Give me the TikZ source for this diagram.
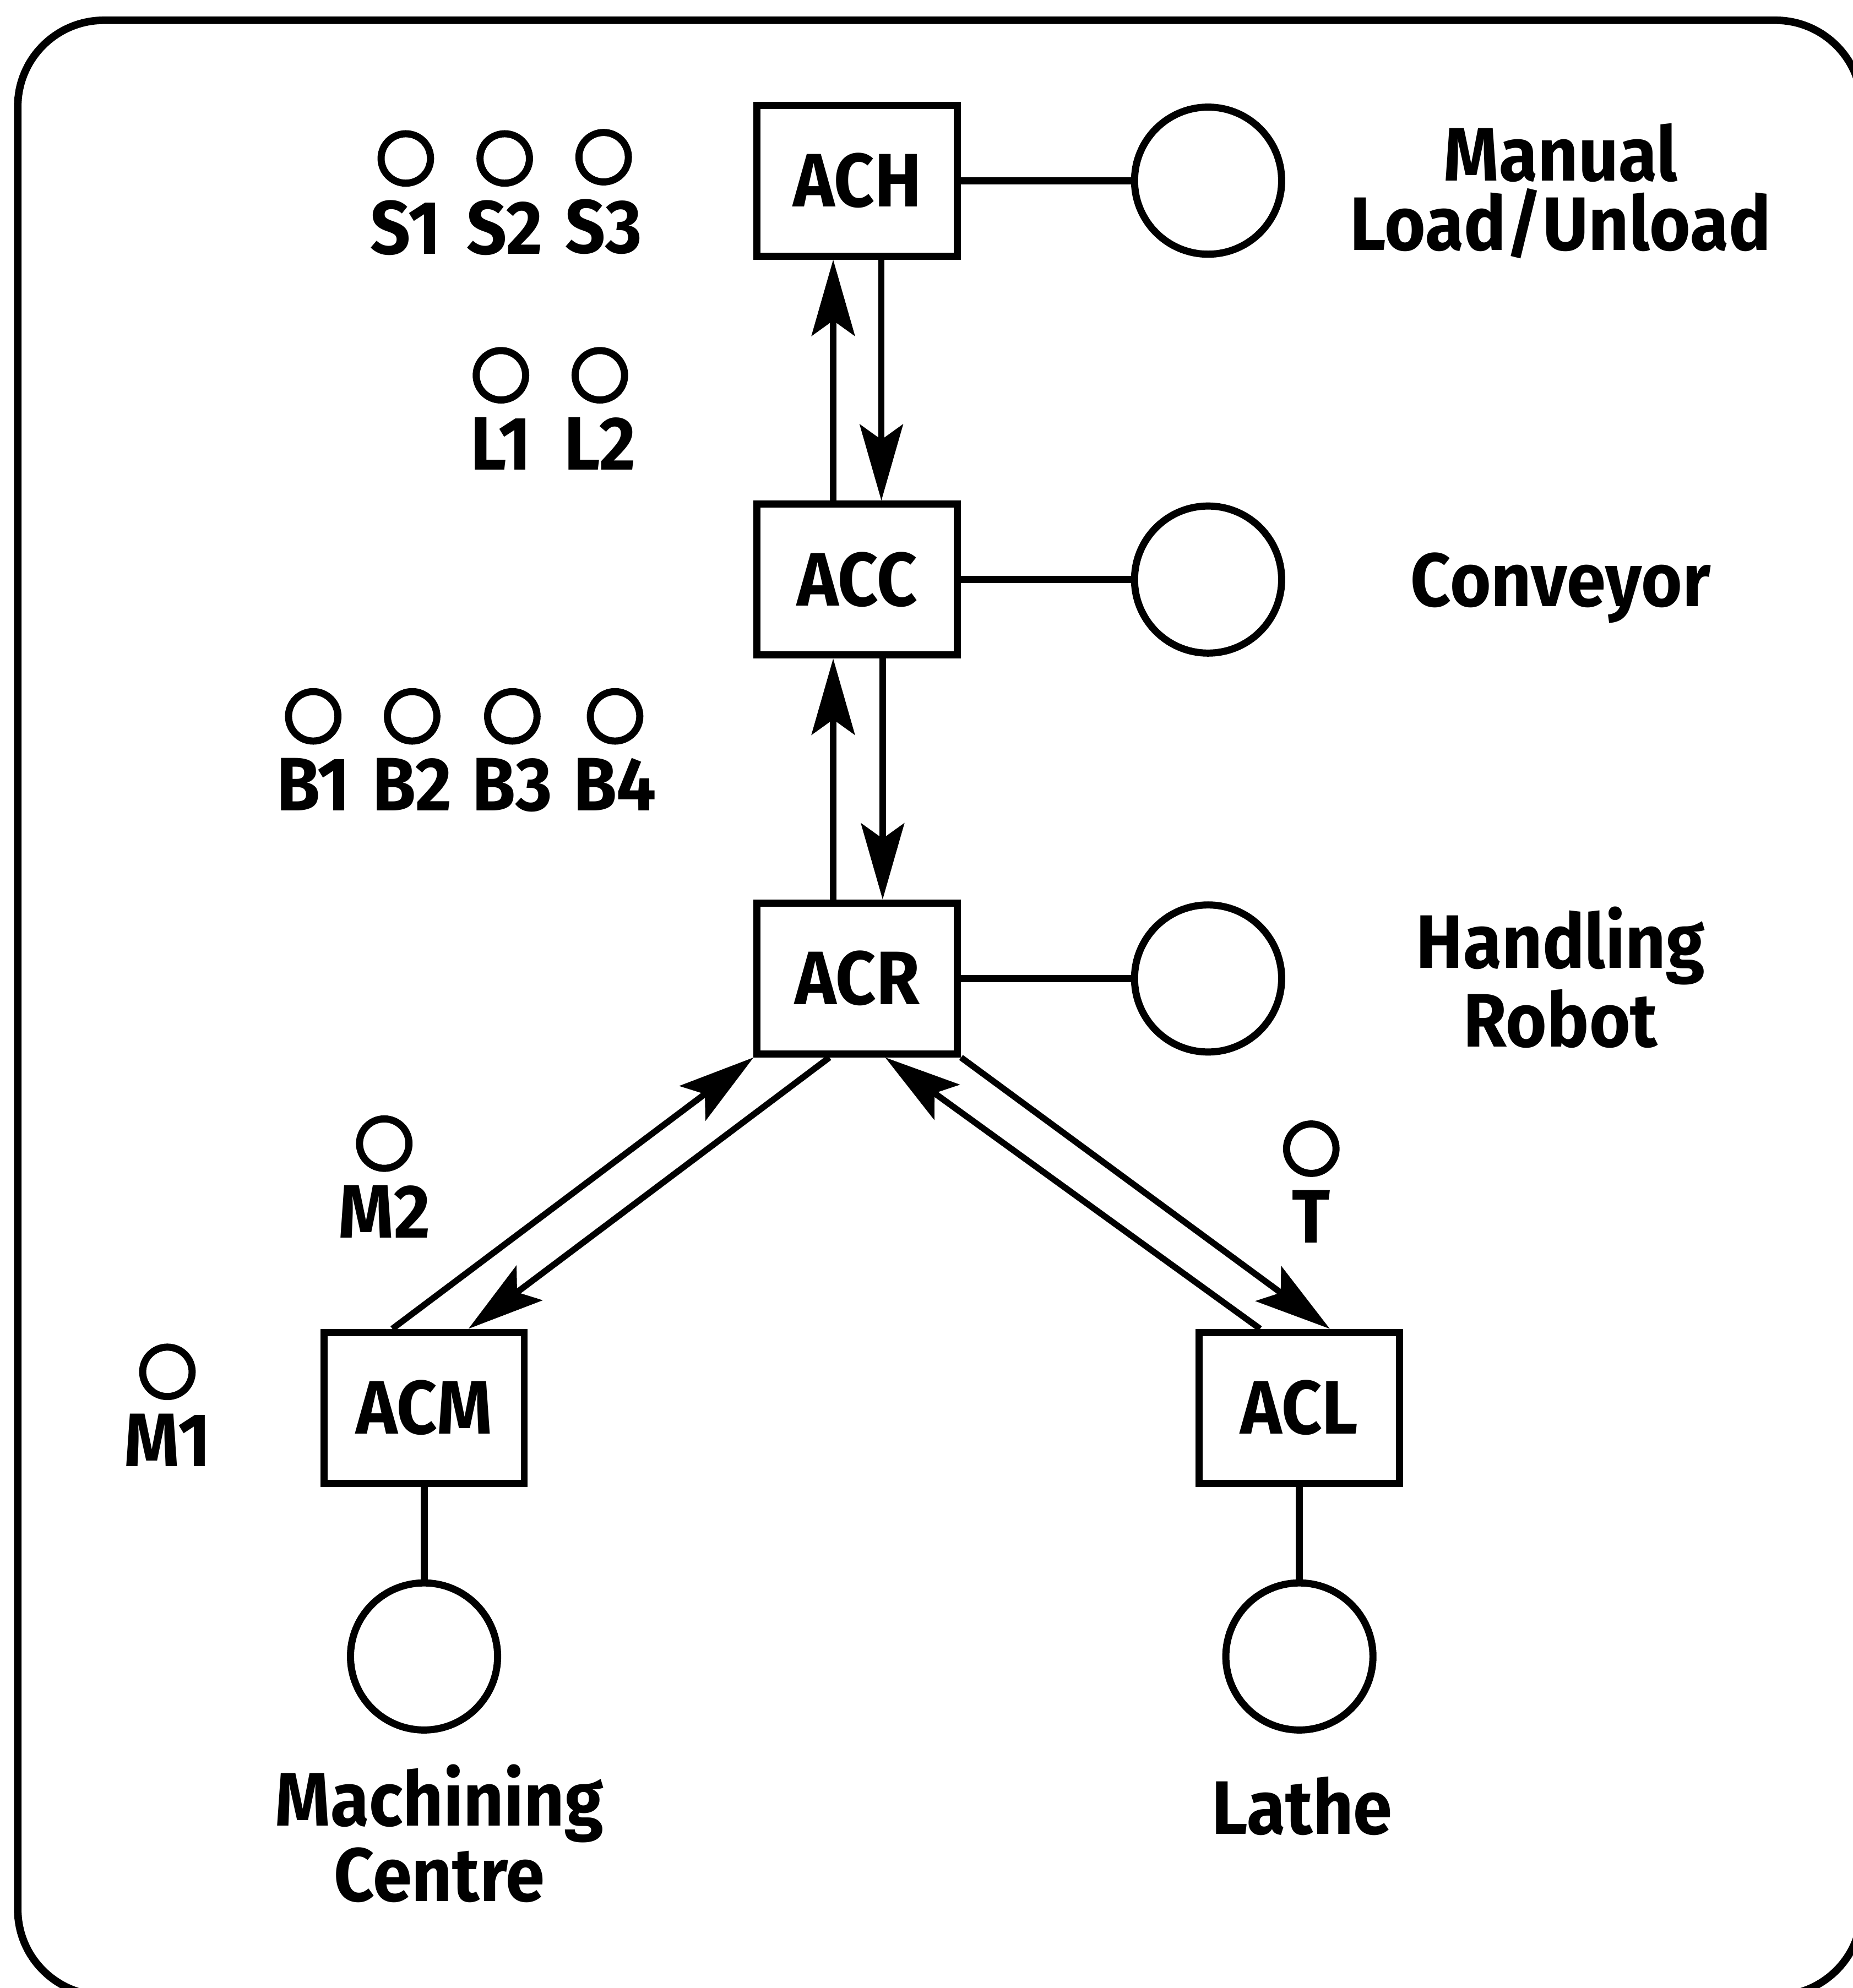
\documentclass[tikz,border=0pt]{standalone}
\usepackage{fontspec}
\setmainfont{Fira Sans}[FakeStretch=0.93]
\usetikzlibrary{arrows.meta, positioning}
\tikzset{
  bloc/.style={rectangle, draw, line width=1.6pt, minimum width=1.58cm,
    minimum height=1.19cm, inner sep=0pt, font=\fontsize{17}{15}\selectfont\bfseries},
  poste/.style={circle, draw, line width=1.6pt, minimum size=1.16cm, inner sep=0pt},
  capteur/.style={circle, draw, line width=1.6pt, minimum size=0.39cm, inner sep=0pt},
  fleche/.style={-{Stealth[length=6mm, width=3.4mm, inset=1.2mm]}, line width=1.4pt},
  lien/.style={line width=1.6pt},
  etiquette/.style={font=\fontsize{17}{15.6}\selectfont\bfseries, align=center, inner sep=0pt},
  cadre/.style={line width=1.7pt, rounded corners=6.8mm}
}

\begin{document}
\begin{tikzpicture}[every label/.style={etiquette}, label distance=0.1cm]
    \useasboundingbox (0,0) rectangle (14.61,-15.68);
    \draw[cadre] (0.14,-0.16) rectangle (14.68,-15.74);

    % chaine centrale
    \node[bloc] (ach) at (6.76,-1.425) {ACH};
    \node[bloc, below=1.9cm of ach] (acc) {ACC};
    \node[bloc, below=1.9cm of acc] (acr) {ACR};
    \node[bloc, below left=2.14cm and 1.78cm of acr] (acm) {ACM};
    \node[bloc, below right=2.14cm and 1.85cm of acr] (acl) {ACL};

    \node[poste, right=1.34cm of ach] (pmh) {};
    \node[poste, right=1.34cm of acc] (pcc) {};
    \node[poste, right=1.34cm of acr] (pcr) {};
    \node[poste, below=0.73cm of acm] (pcm) {};
    \node[poste, below=0.73cm of acl] (pcl) {};

    % base = ligne du bas
    \node[etiquette, anchor=base] (lmh) at ([xshift=2.78cm, yshift=-0.55cm]pmh.center) {Manual\\ Load/Unload};
    \node[etiquette, anchor=base] (lcc) at ([xshift=2.78cm, yshift=-0.21cm]pcc.center) {Conveyor};
    \node[etiquette, anchor=base] (lcr) at ([xshift=2.78cm, yshift=-0.54cm]pcr.center) {Handling\\ Robot};
    \node[etiquette, anchor=base] (lcm) at ([xshift=0.12cm, yshift=-1.93cm]pcm.center) {Machining\\ Centre};
    \node[etiquette, anchor=base] (lcl) at ([xshift=0.02cm, yshift=-1.4cm]pcl.center) {Lathe};

    % capteurs
    \node[capteur, label=below:S1] (s1) at (3.20,-1.25) {};
    \node[capteur, label=below:S2] (s2) at (3.98,-1.25) {};
    \node[capteur, label=below:S3] (s3) at (4.76,-1.24) {};
    \node[capteur, label=below:L1] (l1) at (3.95,-2.96) {};
    \node[capteur, label=below:L2] (l2) at (4.73,-2.96) {};
    \node[capteur, label=below:B1] (b1) at (2.47,-5.65) {};
    \node[capteur, label=below:B2] (b2) at (3.25,-5.65) {};
    \node[capteur, label=below:B3] (b3) at (4.04,-5.65) {};
    \node[capteur, label=below:B4] (b4) at (4.85,-5.65) {};
    \node[capteur, label=below:M2] (m2) at (3.03,-9.02) {};
    \node[capteur, label=below:M1] (m1) at (1.32,-10.82) {};
    \node[capteur, label=below:T] (t) at (10.34,-9.06) {};

    \draw[lien] (ach) -- (pmh);
    \draw[lien] (acc) -- (pcc);
    \draw[lien] (acr) -- (pcr);
    \draw[lien] (acm) -- (pcm);
    \draw[lien] (acl) -- (pcl);

    \draw[fleche] ([xshift=-0.19cm]acc.north) -- ([xshift=-0.19cm]ach.south);
    \draw[fleche] ([xshift=0.19cm]ach.south) -- ([xshift=0.19cm]acc.north);
    \draw[fleche] ([xshift=-0.19cm]acr.north) -- ([xshift=-0.19cm]acc.south);
    \draw[fleche] ([xshift=0.2cm]acc.south) -- ([xshift=0.2cm]acr.north);

    \draw[fleche] ([xshift=-0.25cm]acm.north) -- (acr.south west);
    \draw[fleche] ([xshift=-0.22cm]acr.south) -- ([xshift=0.35cm]acm.north);
    \draw[fleche] ([xshift=-0.31cm]acl.north) -- ([xshift=0.22cm]acr.south);
    \draw[fleche] (acr.south east) -- ([xshift=0.24cm]acl.north);
\end{tikzpicture}
\end{document}
